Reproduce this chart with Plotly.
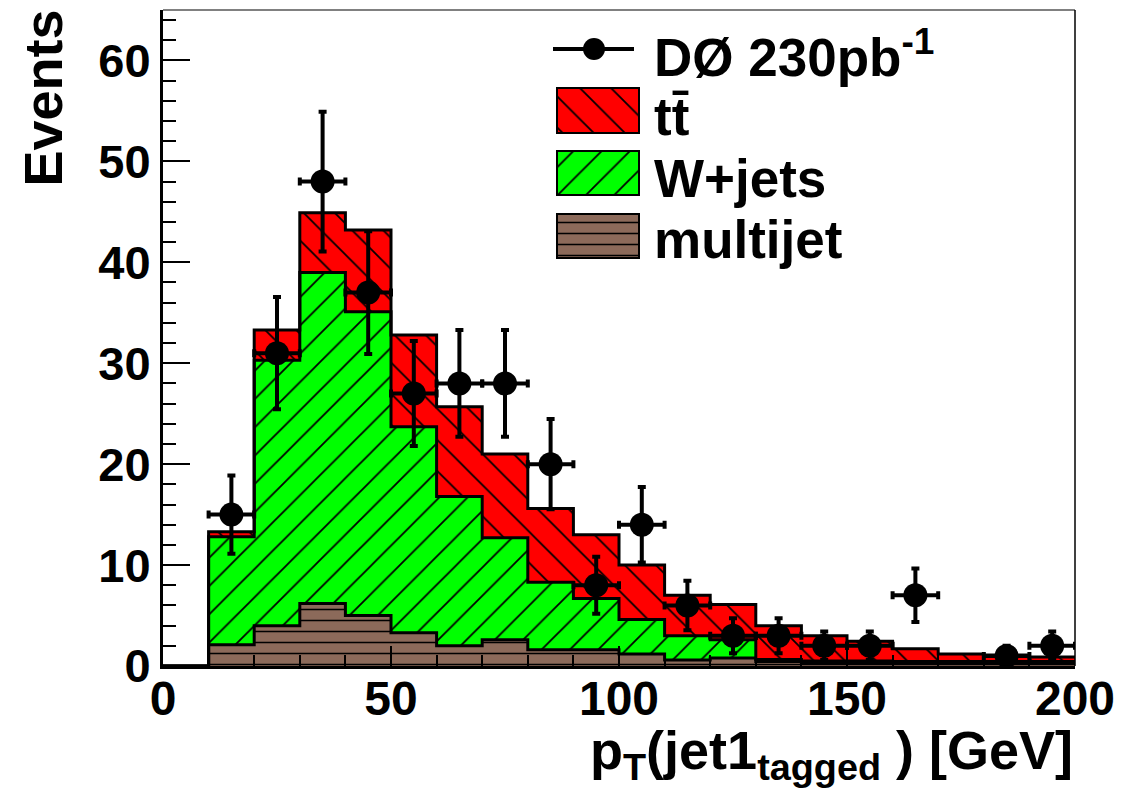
import numpy as np
import plotly.graph_objects as go

# ---- histogram content (10 GeV bins, 0-200 GeV) ----
bin_low = [0, 10, 20, 30, 40, 50, 60, 70, 80, 90, 100, 110, 120, 130, 140, 150, 160, 170, 180, 190]
bin_width = 10

multijet = [0, 2.1, 4.0, 6.2, 5.0, 3.3, 2.0, 2.6, 1.6, 1.6, 1.2, 0.6, 0.8, 0.45, 0.35, 0.35, 0.3, 0.3, 0.3, 0.3]
wjets = [0, 10.7, 26.3, 32.8, 30.1, 20.4, 14.8, 10.1, 6.7, 5.1, 3.4, 2.4, 1.8, 0.2, 0.15, 0.15, 0.15, 0.15, 0.15, 0.15]
ttbar = [0, 0.5, 3.0, 5.9, 8.1, 9.1, 8.9, 8.3, 7.3, 6.3, 5.4, 4.0, 3.5, 3.35, 2.5, 1.95, 1.25, 0.75, 0.65, 0.45]

# ---- data points ----
data_x = [15, 25, 35, 45, 55, 65, 75, 85, 95, 105, 115, 125, 135, 145, 155, 165, 185, 195]
data_y = [15, 31, 48, 37, 27, 28, 28, 20, 8, 14, 6, 3, 3, 2, 2, 7, 1, 2]
data_err = [3.87, 5.57, 6.93, 6.08, 5.20, 5.29, 5.29, 4.47, 2.83, 3.74, 2.45, 1.73, 1.73, 1.41, 1.41, 2.65, 1.0, 1.41]

x_ticks = [0, 50, 100, 150, 200]
y_ticks = [0, 10, 20, 30, 40, 50, 60]

RED = "#ff0000"
GREEN = "#00ff00"
BROWN = "#8c6a5a"
FONT = "Liberation Sans"

W, H = 1135, 791
L, R, T, B = 163, 60, 10, 125


def px_x(px):
    return (px - L) / (W - L - R)


def px_y(py):
    return (H - B - py) / (H - B - T)


# stacked levels
lvl_mj = np.array(multijet)
lvl_w = lvl_mj + np.array(wjets)
lvl_tt = lvl_w + np.array(ttbar)

edges = bin_low + [bin_low[-1] + bin_width]


def step_y(levels):
    v = list(levels)
    return v + [v[-1]]


fig = go.Figure()

stack = [
    (lvl_mj, "tozeroy", BROWN, "-", 11, 0.14),
    (lvl_w, "tonexty", GREEN, "/", 20, 0.09),
    (lvl_tt, "tonexty", RED, "\\", 22, 0.08),
]
for levels, fillmode, col, shp, sz, sol in stack:
    fig.add_trace(go.Scatter(
        x=edges, y=step_y(levels), mode="lines",
        line=dict(shape="hv", color="black", width=3),
        fill=fillmode, fillcolor=col,
        fillpattern=dict(shape=shp, bgcolor=col, fgcolor="black", fgopacity=1,
                         size=sz, solidity=sol, fillmode="replace"),
        hoverinfo="skip", showlegend=False,
    ))

fig.add_trace(go.Scatter(
    x=data_x, y=data_y, mode="markers",
    marker=dict(color="black", size=24),
    error_x=dict(type="constant", value=bin_width / 2, color="black", thickness=4, width=4),
    error_y=dict(type="data", array=data_err, color="black", thickness=4, width=4),
    hoverinfo="skip", showlegend=False,
))

# ---- legend drawn on a small auxiliary axis (pixel units) ----
LX0, LX1, LY0, LY1 = 553, 640, 30, 262
swatches = [
    (88, 45, RED, "\\", 22, 0.08),
    (151, 44, GREEN, "/", 20, 0.09),
    (214, 44, BROWN, "-", 11, 0.14),
]
for top, hgt, col, shp, sz, sol in swatches:
    fig.add_trace(go.Bar(
        x=[598], y=[hgt], base=[top], width=[82],
        xaxis="x2", yaxis="y2",
        marker=dict(color=col, line=dict(color="black", width=2),
                    pattern=dict(shape=shp, bgcolor=col, fgcolor="black", fgopacity=1,
                                 size=sz, solidity=sol, fillmode="replace")),
        hoverinfo="skip", showlegend=False,
    ))
fig.add_trace(go.Scatter(
    x=[553, 634], y=[49, 49], mode="lines", xaxis="x2", yaxis="y2",
    line=dict(color="black", width=4), hoverinfo="skip", showlegend=False,
))
fig.add_trace(go.Scatter(
    x=[594], y=[49], mode="markers", xaxis="x2", yaxis="y2",
    marker=dict(color="black", size=22), hoverinfo="skip", showlegend=False,
))

# legend labels: (text, vertical centre in px)
legend_text = [
    ("DØ 230pb<sup>-1</sup>", 54),
    ("tt\u0304", 117),
    ("W+jets", 178),
    ("multijet", 239),
]
annotations = []
for txt, cy in legend_text:
    annotations.append(dict(
        text=txt, x=px_x(652), y=px_y(cy), xref="paper", yref="paper",
        xanchor="left", yanchor="middle", showarrow=False,
        font=dict(family=FONT, size=53, color="black", weight="bold"),
    ))

# axis titles
annotations.append(dict(
    text="Events", x=px_x(42), y=px_y(8), xref="paper", yref="paper",
    xanchor="center", yanchor="top", textangle=-90, showarrow=False,
    font=dict(family=FONT, size=54, color="black", weight="bold"),
))
annotations.append(dict(
    text="p<sub>T</sub>(jet1<sub>tagged</sub> ) [GeV]", x=1.0, y=px_y(754),
    xref="paper", yref="paper", xanchor="right", yanchor="middle", showarrow=False,
    font=dict(family=FONT, size=54, color="black", weight="bold"),
))

fig.update_layout(
    width=W, height=H,
    margin=dict(l=L, r=R, t=T, b=B),
    paper_bgcolor="white", plot_bgcolor="white",
    barmode="overlay",
    xaxis=dict(
        range=[0, 200], tickvals=x_ticks, ticks="inside", ticklen=20, tickwidth=2,
        tickcolor="black", showline=True, linewidth=3, linecolor="black",
        showgrid=False, zeroline=False, ticklabelstandoff=-12,
        minor=dict(dtick=10, ticks="inside", ticklen=11, tickwidth=2, tickcolor="black", showgrid=False),
        tickfont=dict(family=FONT, size=48, color="black", weight="bold"),
    ),
    yaxis=dict(
        range=[0, 65], tickvals=y_ticks, ticks="inside", ticklen=27, tickwidth=2,
        tickcolor="black", showline=True, linewidth=3, linecolor="black",
        showgrid=False, zeroline=False,
        minor=dict(dtick=2, ticks="inside", ticklen=13, tickwidth=2, tickcolor="black", showgrid=False),
        tickfont=dict(family=FONT, size=47, color="black", weight="bold"),
    ),
    xaxis2=dict(domain=[px_x(LX0), px_x(LX1)], range=[LX0, LX1], visible=False,
                anchor="y2", fixedrange=True),
    yaxis2=dict(domain=[px_y(LY1), px_y(LY0)], range=[LY1, LY0], visible=False,
                anchor="x2", fixedrange=True),
    annotations=annotations,
    shapes=[
        dict(type="line", xref="paper", yref="paper", x0=0, x1=1, y0=1, y1=1,
             line=dict(color="#808080", width=2)),
        dict(type="line", xref="paper", yref="paper", x0=1, x1=1, y0=0, y1=1,
             line=dict(color="black", width=1.5)),
    ],
)

fig.write_html("out.html")
